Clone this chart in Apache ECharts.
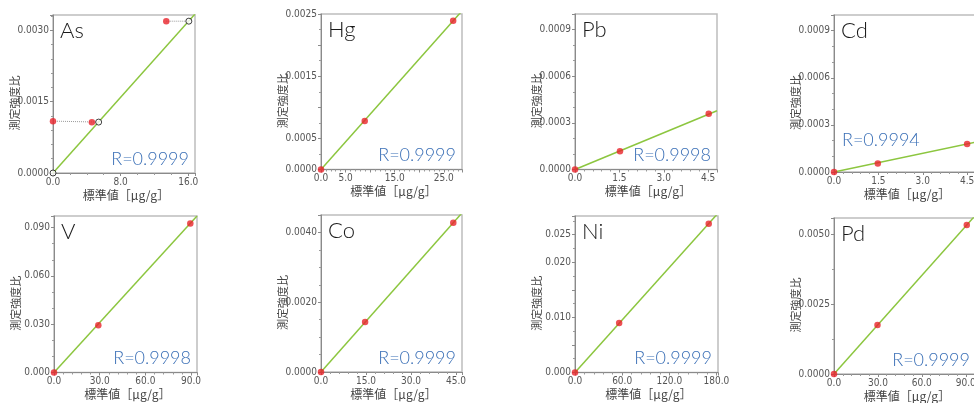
<!DOCTYPE html>
<html>
<head>
<meta charset="utf-8">
<script src="https://cdn.jsdelivr.net/npm/echarts@6/dist/echarts.min.js"></script>
<style>
html,body{margin:0;padding:0;background:#fff;}
#c{width:974px;height:403px;}
</style>
</head>
<body>
<div id="c"></div>
<script>
// ---- data ----
const elements = ['As', 'Hg', 'Pb', 'Cd', 'V', 'Co', 'Ni', 'Pd'];
const rLabels = ['R=0.9999', 'R=0.9999', 'R=0.9998', 'R=0.9994', 'R=0.9998', 'R=0.9999', 'R=0.9999', 'R=0.9999'];
const xMax = [16.8, 28.7, 4.8, 4.8, 93.9, 47, 182, 97];
const yMax = [0.00332, 0.0025, 0.001, 0.001, 0.0972, 0.0045, 0.0284, 0.0056];
const xInterval = [8, 5, 1.5, 1.5, 30, 15, 60, 30];
const yInterval = [0.0015, 0.0005, 0.0003, 0.0003, 0.03, 0.002, 0.005, 0.0025];
const xTickLabels = [
  ['0.0', '8.0', '16.0'],
  ['0.0', '5.0', '15.0', '25.0'],
  ['0.0', '1.5', '3.0', '4.5'],
  ['0.0', '1.5', '3.0', '4.5'],
  ['0.0', '30.0', '60.0', '90.0'],
  ['0.0', '15.0', '30.0', '45.0'],
  ['0.0', '60.0', '120.0', '180.0'],
  ['0.0', '30.0', '60.0', '90.0']
];
const yTickLabels = [
  ['0.0000', '0.0015', '0.0030'],
  ['0.0000', '0.0005', '0.0015', '0.0025'],
  ['0.0000', '0.0003', '0.0006', '0.0009'],
  ['0.0000', '0.0003', '0.0006', '0.0009'],
  ['0.000', '0.030', '0.060', '0.090'],
  ['0.0000', '0.0020', '0.0040'],
  ['0.000', '0.010', '0.020', '0.025'],
  ['0.0000', '0.0025', '0.0050']
];
const xMinorSplit = [4, 5, 5, 5, 5, 5, 5, 5];
const yMinorSplit = [5, 2, 3, 3, 3, 4, 2, 2];

// measured points (red)
const hgPoints = [[0, 0], [8.9, 0.00078], [26.9, 0.00239]];
const pbPoints = [[0, 0], [1.52, 0.000118], [4.52, 0.000358]];
const cdPoints = [[0, 0], [1.48, 0.0000536], [4.5, 0.000179]];
const vPoints = [[0, 0], [29.1, 0.0294], [89.5, 0.0925]];
const coPoints = [[0, 0], [14.7, 0.00143], [44.1, 0.00428]];
const niPoints = [[0, 0], [56.2, 0.0090], [170.2, 0.0270]];
const pdPoints = [[0, 0], [29.7, 0.00176], [90.7, 0.00535]];
// As: measured (red) and corrected (open circles)
const asMeasured = [[0, 0.00109], [4.6, 0.001066], [13.4, 0.00319]];
const asCorrected = [[0, 0], [5.4, 0.00107], [16.07, 0.00319]];
const asLinkLow = [[0, 0.00109], [5.4, 0.00107]];
const asLinkHigh = [[13.4, 0.00319], [16.07, 0.00319]];

// calibration lines
const calLines = [
  [[0, 0], [16.8, 0.00334]],
  [[0, 0], [28.7, 0.00255]],
  [[0, 0], [4.8, 0.000378]],
  [[0, 0], [4.8, 0.00019]],
  [[0, 0], [93.9, 0.0972]],
  [[0, 0], [47, 0.00456]],
  [[0, 0], [182, 0.0289]],
  [[0, 0], [97, 0.00572]]
];
const redPoints = [asMeasured, hgPoints, pbPoints, cdPoints, vPoints, coPoints, niPoints, pdPoints];

const yName = '測定強度比';
const xName = '標準値［μg/g］';

// ---- layout ----
const rects = [
  [53, 15, 142, 158],
  [321, 14, 141, 155.5],
  [575, 14, 142, 155.5],
  [834, 15, 142, 157],
  [54, 216, 143, 156.5],
  [321, 215, 141, 157],
  [575, 216, 143, 156.5],
  [834, 218, 142, 156]
];

const labelFont = "'Liberation Sans Narrow', 'DejaVu Sans Condensed', 'Arial Narrow', sans-serif";
const cjkFont = "'Noto Sans CJK JP', sans-serif";

function fmt(list) {
  const dec = (list[0].split('.')[1] || '').length;
  return function (v) {
    const s = Number(v).toFixed(dec);
    return list.indexOf(s) >= 0 ? s : '';
  };
}

const grid = [], xAxis = [], yAxis = [], series = [], graphic = [];
for (let i = 0; i < 8; i++) {
  const [l, t, w, h] = rects[i];
  grid.push({
    left: l, top: t, width: w, height: h,
    show: true, borderColor: '#bdbdbd', borderWidth: 1.5, backgroundColor: '#fff',
    outerBoundsMode: 'none', containLabel: false
  });
  const axisCommon = {
    axisLine: { show: true, onZero: false, lineStyle: { color: '#8a8a8a', width: 1 } },
    axisTick: { show: true, inside: false, length: 3, lineStyle: { color: '#8a8a8a' } },
    splitLine: { show: false },
    minorSplitLine: { show: false }
  };
  xAxis.push(Object.assign({
    type: 'value', gridIndex: i, min: 0, max: xMax[i], interval: xInterval[i],
    minorTick: { show: true, splitNumber: xMinorSplit[i], length: 2, lineStyle: { color: '#9a9a9a' } },
    axisLabel: { show: true, margin: 4, color: '#555', fontSize: 10, fontFamily: labelFont,
      formatter: fmt(xTickLabels[i]), showMaxLabel: true, showMinLabel: true }
  }, axisCommon));
  yAxis.push(Object.assign({
    type: 'value', gridIndex: i, min: 0, max: yMax[i], interval: yInterval[i],
    minorTick: { show: true, splitNumber: yMinorSplit[i], length: 2, lineStyle: { color: '#9a9a9a' } },
    axisLabel: { show: true, margin: 4, color: '#555', fontSize: 10, fontFamily: labelFont,
      formatter: fmt(yTickLabels[i]), showMaxLabel: true, showMinLabel: true }
  }, axisCommon));

  series.push({
    type: 'line', xAxisIndex: i, yAxisIndex: i, data: calLines[i],
    showSymbol: false, symbol: 'none', clip: true, silent: true,
    lineStyle: { color: '#8cc63f', width: 1.5 }, z: 2
  });

  if (i === 0) {
    [asLinkLow, asLinkHigh].forEach(d => series.push({
      type: 'line', xAxisIndex: 0, yAxisIndex: 0, data: d, symbol: 'none', clip: false, silent: true,
      lineStyle: { color: '#9a9a9a', width: 1, type: 'dotted' }, z: 3
    }));
    series.push({
      type: 'scatter', xAxisIndex: 0, yAxisIndex: 0, data: asCorrected, clip: false,
      symbol: 'circle', symbolSize: 6,
      itemStyle: { color: '#fff', borderColor: '#111', borderWidth: 1 }, z: 5
    });
  }
  series.push({
    type: 'scatter', xAxisIndex: i, yAxisIndex: i, data: redPoints[i], clip: false,
    symbol: 'circle', symbolSize: 6.5, itemStyle: { color: '#e8232b' }, z: 6
  });

  // element name
  graphic.push({
    type: 'text', x: l + 7, y: t + 16, z: 10,
    style: { text: elements[i], fill: '#1a1a1a', font: "300 22px Lato, 'Open Sans', sans-serif",
      align: 'left', verticalAlign: 'middle' }
  });
  // R value
  if (i === 3) {
    graphic.push({
      type: 'text', x: l + 8, y: t + 125, z: 10,
      style: { text: rLabels[i], fill: '#3a6fb6', font: "300 18px Lato, 'Open Sans', sans-serif",
        align: 'left', verticalAlign: 'middle' }
    });
  } else {
    graphic.push({
      type: 'text', x: l + w - 6, y: t + h - 14, z: 10,
      style: { text: rLabels[i], fill: '#3a6fb6', font: "300 18px Lato, 'Open Sans', sans-serif",
        align: 'right', verticalAlign: 'middle' }
    });
  }
  // axis names
  graphic.push({
    type: 'text', x: l - 38, y: t + h / 2 + 9, rotation: Math.PI / 2, z: 10,
    style: { text: yName, fill: '#444', font: "11px " + cjkFont, align: 'center', verticalAlign: 'middle' }
  });
  graphic.push({
    type: 'text', x: l + w / 2 + 2, y: t + h + 22, z: 10,
    style: { text: xName, fill: '#444', font: "12px " + cjkFont, align: 'center', verticalAlign: 'middle' }
  });
}

const chart = echarts.init(document.getElementById('c'), null, { renderer: 'canvas' });
chart.setOption({
  animation: false,
  backgroundColor: '#fff',
  grid: grid, xAxis: xAxis, yAxis: yAxis, series: series, graphic: graphic
});
</script>
</body>
</html>
